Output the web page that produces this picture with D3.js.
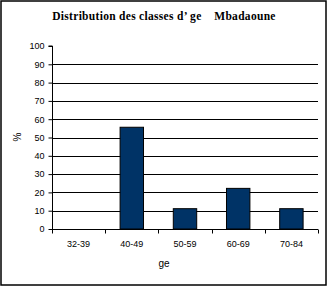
<!DOCTYPE html>
<html>
<head>
<meta charset="utf-8">
<script src="https://cdn.jsdelivr.net/npm/d3@7"></script>
<style>
  body { margin: 0; background: #fff; }
  text { font-family: "Liberation Sans", Arial, sans-serif; }
</style>
</head>
<body>
<div class="chart"></div>
<script>
var svgWidth = 328;
var svgHeight = 286;

// data
var categories = ["32-39", "40-49", "50-59", "60-69", "70-84"];
var values = [0, 55.6, 11.1, 22.2, 11.1];
var yTicks = [0, 10, 20, 30, 40, 50, 60, 70, 80, 90, 100];

var margin = { top: 46, right: 10, bottom: 57, left: 52 };
var width = svgWidth - margin.left - margin.right;
var height = svgHeight - margin.top - margin.bottom;

var svg = d3.select(".chart")
  .append("svg")
  .attr("width", svgWidth)
  .attr("height", svgHeight);

// outer frame
svg.append("rect")
  .attr("x", 1).attr("y", 1)
  .attr("width", svgWidth - 3).attr("height", svgHeight - 2)
  .attr("fill", "none")
  .attr("stroke", "#000")
  .attr("stroke-width", 1.5);

svg.append("text")
  .attr("x", 164)
  .attr("y", 20)
  .attr("text-anchor", "middle")
  .style("font-family", "'Liberation Serif', 'Times New Roman', serif")
  .style("font-weight", "bold")
  .style("font-size", "11.5px")
  .style("letter-spacing", "0.3px")
  .style("white-space", "pre")
  .text("Distribution des classes d\u2019 ge    Mbadaoune");

var chartGroup = svg.append("g")
  .attr("transform", `translate(${margin.left}, ${margin.top})`);

var xScale = d3.scaleBand()
  .domain(categories)
  .range([0, width])
  .paddingInner(0.56)
  .paddingOuter(0.28);

var yScale = d3.scaleLinear()
  .domain([0, 100])
  .range([height, 0]);

// gridlines
chartGroup.selectAll(".grid")
  .data(yTicks.filter(d => d > 0 && d < 100))
  .enter()
  .append("line")
  .attr("x1", 0)
  .attr("x2", width)
  .attr("y1", d => Math.round(yScale(d)) + 0.5)
  .attr("y2", d => Math.round(yScale(d)) + 0.5)
  .attr("stroke", "#000")
  .attr("stroke-width", 1);

// bars
chartGroup.selectAll("rect.bar")
  .data(values)
  .enter()
  .append("rect")
  .attr("class", "bar")
  .attr("x", (d, i) => xScale(categories[i]))
  .attr("y", d => yScale(d))
  .attr("width", xScale.bandwidth())
  .attr("height", d => height - yScale(d))
  .attr("fill", "#003366")
  .attr("stroke", "#000")
  .attr("stroke-width", d => d > 0 ? 1 : 0);

// y axis
var leftAxis = d3.axisLeft(yScale)
  .tickValues(yTicks)
  .tickSize(4)
  .tickPadding(4);

var yAxis = chartGroup.append("g")
  .attr("transform", "translate(0.5,0)")
  .call(leftAxis);
yAxis.select(".domain").attr("d", `M-4,${yScale(100)}H0V${height}`);
yAxis.selectAll("text").style("font-size", "9px").attr("fill", "#000");

// x axis, ticks on category boundaries
var step = width / categories.length;
var xAxis = chartGroup.append("g")
  .attr("transform", `translate(0, ${height + 0.5})`);
xAxis.append("line")
  .attr("x1", 0).attr("x2", width)
  .attr("stroke", "#000");
xAxis.selectAll(".tk")
  .data(d3.range(categories.length + 1))
  .enter()
  .append("line")
  .attr("x1", i => Math.round(i * step) + 0.5)
  .attr("x2", i => Math.round(i * step) + 0.5)
  .attr("y1", 0).attr("y2", 4)
  .attr("stroke", "#000");
xAxis.selectAll(".lbl")
  .data(categories)
  .enter()
  .append("text")
  .attr("x", d => xScale(d) + xScale.bandwidth() / 2)
  .attr("y", 17)
  .attr("text-anchor", "middle")
  .style("font-size", "9px")
  .text(d => d);

// axis titles
svg.append("text")
  .attr("x", 164)
  .attr("y", 267)
  .attr("text-anchor", "middle")
  .style("font-size", "10px")
  .text("ge");

svg.append("text")
  .attr("transform", "translate(21,137) rotate(-90)")
  .attr("text-anchor", "middle")
  .style("font-size", "10px")
  .text("%");
</script>
</body>
</html>
